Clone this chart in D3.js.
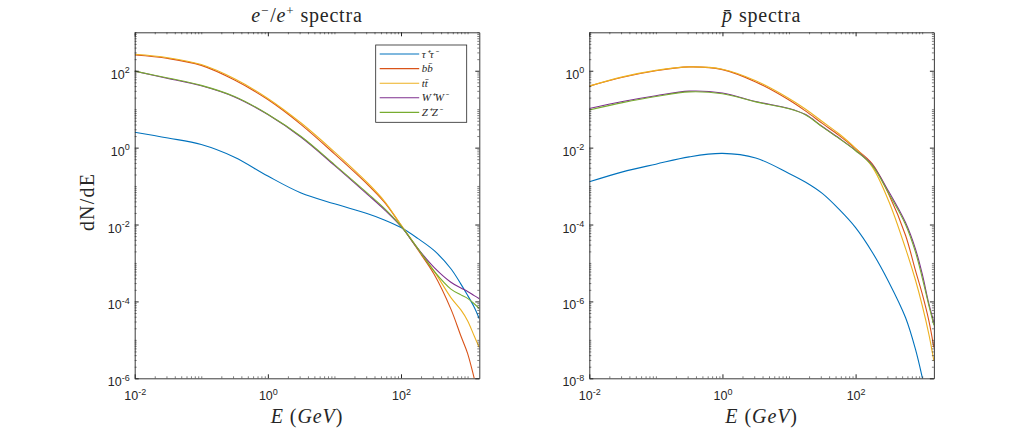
<!DOCTYPE html>
<html>
<head>
<meta charset="utf-8">
<script src="https://cdn.jsdelivr.net/npm/d3@7"></script>
<style>
  body { margin: 0; background: #fff; }
  .tick text { fill: #262626; font-family: "Liberation Sans", Arial, sans-serif; }
  .serif { font-family: "Liberation Serif", "Times New Roman", serif; fill: #262626; }
</style>
</head>
<body>
<div id="chart"></div>
<script>
const width = 1033;
const height = 431;

// energies (GeV) where the curves were sampled
const energyLeft = [0.01, 0.0316, 0.1, 0.316, 1, 3.16, 10, 31.6, 56.2, 100, 178, 316, 562, 794, 1000, 1259, 1500];
const energyRight = [0.01, 0.0316, 0.1, 0.316, 1, 3.16, 10, 17.8, 31.6, 56.2, 100, 178, 316, 562, 794, 1000, 1259, 1500];

// log10(dN/dE), e-/e+ panel
const tauLeft = [0.40, 0.25, 0.08, -0.25, -0.74, -1.18, -1.46, -1.72, -1.88, -2.08, -2.36, -2.68, -3.15, -3.55, -3.84, -4.15, -4.45];
const bbLeft  = [2.41, 2.32, 2.14, 1.76, 1.25, 0.60, -0.16, -0.96, -1.42, -2.02, -2.65, -3.30, -4.20, -4.90, -5.35, -6.00, -6.50];
const ttLeft  = [2.43, 2.34, 2.16, 1.79, 1.28, 0.64, -0.11, -0.92, -1.39, -2.01, -2.62, -3.22, -3.90, -4.22, -4.50, -4.90, -5.20];
const wwLeft  = [1.99, 1.80, 1.61, 1.32, 0.86, 0.27, -0.46, -1.22, -1.61, -2.05, -2.62, -3.12, -3.50, -3.65, -3.74, -3.85, -3.93];
const zzLeft  = [1.99, 1.81, 1.62, 1.33, 0.87, 0.29, -0.44, -1.19, -1.58, -2.04, -2.62, -3.22, -3.68, -3.83, -3.92, -4.06, -4.19];

// log10(dN/dE), anti-proton panel
const tauRight = [-2.89, -2.63, -2.43, -2.24, -2.15, -2.27, -2.67, -2.90, -3.19, -3.60, -4.08, -4.72, -5.50, -6.42, -7.25, -7.97, -8.80, -9.50];
const bbRight  = [-0.40, -0.17, 0.00, 0.10, 0.03, -0.29, -0.76, -1.05, -1.37, -1.68, -2.03, -2.42, -3.22, -4.28, -5.20, -5.80, -6.50, -7.20];
const ttRight  = [-0.40, -0.16, 0.01, 0.10, 0.04, -0.26, -0.72, -1.00, -1.32, -1.64, -2.02, -2.50, -3.40, -4.62, -5.45, -6.10, -6.85, -7.55];
const wwRight  = [-0.98, -0.80, -0.65, -0.53, -0.58, -0.80, -0.98, -1.14, -1.45, -1.75, -2.07, -2.45, -3.15, -3.95, -4.64, -5.28, -6.06, -6.54];
const zzRight  = [-1.02, -0.83, -0.67, -0.55, -0.60, -0.81, -0.99, -1.15, -1.46, -1.76, -2.08, -2.47, -3.20, -4.00, -4.72, -5.38, -6.10, -6.62];

const channels = ['τ⁺τ⁻', 'bb̄', 'tt̄', 'W⁺W⁻', 'Z⁺Z⁻'];
const colors = ['#0072BD', '#D95319', '#EDB120', '#7E2F8E', '#77AC30'];

const xDomain = [0.01, 1500];
const xMajor = [1e-2, 1e0, 1e2];
const yDomainLeft = [1e-6, 1e3];
const yMajorLeft = [1e-6, 1e-4, 1e-2, 1e0, 1e2];
const yDomainRight = [1e-8, 1e1];
const yMajorRight = [1e-8, 1e-6, 1e-4, 1e-2, 1e0];

const plotW = 344.6;
const plotH = 346;
const plotTop = 32.3;

const svg = d3.select('#chart').append('svg')
  .attr('width', width)
  .attr('height', height);

svg.append('rect').attr('width', width).attr('height', height).attr('fill', '#fff');

// all 1..9 x 10^k values inside the range that are not major ticks
function minorTicks(domain, majors) {
  const out = [];
  const k0 = Math.floor(Math.log10(domain[0]));
  const k1 = Math.ceil(Math.log10(domain[1]));
  for (let k = k0; k <= k1; k++) {
    for (let m = 1; m < 10; m++) {
      const v = m * Math.pow(10, k);
      if (v < domain[0] * 0.999 || v > domain[1] * 1.001) continue;
      if (majors.some(t => Math.abs(t - v) / v < 1e-6)) continue;
      out.push(v);
    }
  }
  return out;
}

// "10" with a raised exponent
function powerLabel(text) {
  text.each(function (d) {
    const t = d3.select(this).text('');
    t.append('tspan').attr('font-size', 12.5).text('10');
    t.append('tspan').attr('font-size', 9).attr('dy', -5.5).text(Math.round(Math.log10(d)));
  });
}

function drawPanel(left, energy, seriesList, yDomain, yMajor, panelId) {
  const g = svg.append('g').attr('transform', `translate(${left},${plotTop})`);

  const x = d3.scaleLog().domain(xDomain).range([0, plotW]);
  const y = d3.scaleLog().domain(yDomain).range([plotH, 0]);

  g.append('clipPath').attr('id', 'clip' + panelId)
    .append('rect').attr('width', plotW).attr('height', plotH);

  const line = d3.line()
    .x(d => x(d[0]))
    .y(d => y(Math.pow(10, d[1])))
    .curve(d3.curveCatmullRom.alpha(0.5));

  seriesList.forEach((vals, i) => {
    g.append('path')
      .attr('clip-path', `url(#clip${panelId})`)
      .attr('d', line(energy.map((e, j) => [e, vals[j]])))
      .attr('fill', 'none')
      .attr('stroke', colors[i])
      .attr('stroke-width', 1.1);
  });

  const xMinor = minorTicks(xDomain, xMajor);
  const yMinor = minorTicks(yDomain, yMajor);

  // minor ticks on the four sides
  const minorAxes = [
    [d3.axisBottom(x).tickValues(xMinor), `translate(0,${plotH})`],
    [d3.axisTop(x).tickValues(xMinor), null],
    [d3.axisLeft(y).tickValues(yMinor), null],
    [d3.axisRight(y).tickValues(yMinor), `translate(${plotW},0)`]
  ];
  minorAxes.forEach(([ax, tr]) => {
    const a = g.append('g').attr('color', '#262626')
      .call(ax.tickSizeInner(-2).tickSizeOuter(0).tickFormat(''));
    if (tr) a.attr('transform', tr);
    a.select('.domain').remove();
    a.selectAll('line').attr('stroke-width', 0.6);
  });

  // major ticks, box and labels
  const bottom = g.append('g').attr('color', '#262626')
    .attr('transform', `translate(0,${plotH})`)
    .call(d3.axisBottom(x).tickValues(xMajor).tickSizeInner(-4).tickSizeOuter(0));
  bottom.selectAll('.tick text').attr('y', 22).attr('dy', 0).call(powerLabel);

  g.append('g').attr('color', '#262626')
    .call(d3.axisTop(x).tickValues(xMajor).tickSizeInner(-4).tickSizeOuter(0).tickFormat(''));

  const leftAx = g.append('g').attr('color', '#262626')
    .call(d3.axisLeft(y).tickValues(yMajor).tickSizeInner(-4).tickSizeOuter(0));
  leftAx.selectAll('.tick text').attr('x', -5).attr('dy', 0).attr('y', 7.5).call(powerLabel);

  g.append('g').attr('color', '#262626')
    .attr('transform', `translate(${plotW},0)`)
    .call(d3.axisRight(y).tickValues(yMajor).tickSizeInner(-4).tickSizeOuter(0).tickFormat(''));

  g.selectAll('.domain').attr('stroke-width', 0.9);

  // x label
  const xl = g.append('text').attr('class', 'serif')
    .attr('x', plotW / 2).attr('y', 391)
    .attr('text-anchor', 'middle')
    .attr('font-size', 20)
    .attr('letter-spacing', 0.9);
  xl.append('tspan').attr('font-style', 'italic').text('E');
  xl.append('tspan').attr('dx', 6).text('(');
  xl.append('tspan').attr('font-style', 'italic').text('GeV');
  xl.append('tspan').text(')');

  return g;
}

const gl = drawPanel(134.7, energyLeft, [tauLeft, bbLeft, ttLeft, wwLeft, zzLeft], yDomainLeft, yMajorLeft, 'L');
const gr = drawPanel(589.3, energyRight, [tauRight, bbRight, ttRight, wwRight, zzRight], yDomainRight, yMajorRight, 'R');

// titles
const t1 = gl.append('text').attr('class', 'serif')
  .attr('x', plotW / 2).attr('y', -10)
  .attr('text-anchor', 'middle')
  .attr('font-size', 20)
  .attr('letter-spacing', 0.8);
t1.append('tspan').attr('font-style', 'italic').text('e');
t1.append('tspan').attr('font-size', 13).attr('dy', -7).text('−');
t1.append('tspan').attr('dy', 7).attr('dx', 1).text('/');
t1.append('tspan').attr('font-style', 'italic').text('e');
t1.append('tspan').attr('font-size', 13).attr('dy', -7).text('+');
t1.append('tspan').attr('dy', 7).attr('dx', 6).text('spectra');

const t2 = gr.append('text').attr('class', 'serif')
  .attr('x', plotW / 2).attr('y', -10)
  .attr('text-anchor', 'middle')
  .attr('font-size', 20)
  .attr('letter-spacing', 0.8);
t2.append('tspan').attr('font-style', 'italic').text('p̄');
t2.append('tspan').attr('dx', 6).text('spectra');

// y label
svg.append('text').attr('class', 'serif')
  .attr('transform', 'translate(94,202) rotate(-90)')
  .attr('text-anchor', 'middle')
  .attr('font-size', 20)
  .attr('letter-spacing', 1.2)
  .text('dN/dE');

// legend in the left panel
const legend = gl.append('g').attr('transform', 'translate(241,12.7)');
legend.append('rect')
  .attr('width', 91).attr('height', 77.3)
  .attr('fill', '#fff').attr('stroke', '#262626').attr('stroke-width', 0.8);
channels.forEach((name, i) => {
  const yy = 9 + i * 14.6;
  legend.append('line')
    .attr('x1', 4).attr('x2', 43.5)
    .attr('y1', yy).attr('y2', yy)
    .attr('stroke', colors[i]).attr('stroke-width', 1.1);
  legend.append('text').attr('class', 'serif')
    .attr('x', 46).attr('y', yy + 3.5)
    .attr('font-size', 11).attr('font-style', 'italic')
    .text(name);
});
</script>
</body>
</html>
